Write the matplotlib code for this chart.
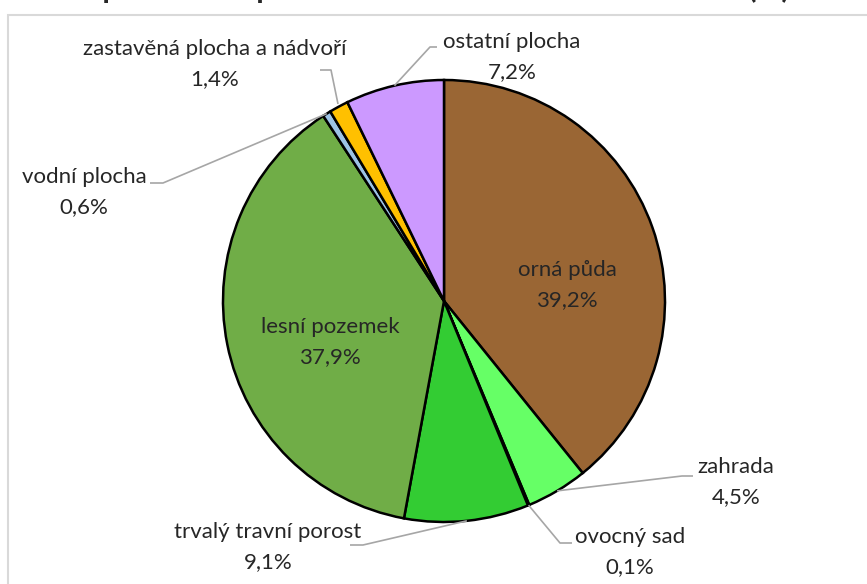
import matplotlib.pyplot as plt
from matplotlib.patches import Rectangle
import numpy as np

plt.rcParams["font.family"] = ["Lato", "DejaVu Sans"]

categories = ["orná půda", "zahrada", "ovocný sad", "trvalý travní porost",
              "lesní pozemek", "vodní plocha", "zastavěná plocha a nádvoří",
              "ostatní plocha"]
values = [39.2, 4.5, 0.1, 9.1, 37.9, 0.6, 1.4, 7.2]
colors = ["#9A6634", "#66FF66", "#2E8B2E", "#33CC33", "#70AD47", "#9DC3E6",
          "#FFC000", "#CC99FF"]

W, H = 867, 584
CX, CY, R = 444, 301, 221

fig = plt.figure(figsize=(W / 100, H / 100), dpi=100)
ax = fig.add_axes([0, 0, 1, 1])

wedges, _ = ax.pie(values, colors=colors, startangle=90, counterclock=False,
                   radius=1, center=(0, 0),
                   wedgeprops=dict(edgecolor="black", linewidth=1.8))

ax.set_aspect("auto")
ax.set_xlim(-CX / R, (W - CX) / R)
ax.set_ylim((CY - H) / R, CY / R)
ax.axis("off")

# frame of the chart area (cut off at right/bottom)
fig.patches.append(Rectangle((8 / W, -0.1), 1.2, 1 - 15 / H + 0.1,
                             transform=fig.transFigure, fill=False,
                             edgecolor="#D9D9D9", lw=1.5))

# title, mostly cut off above the image
fig.text(790 / W, 1 + 2 / H,
         "Zastoupení druhů pozemků v katastrálním území obce (%)",
         ha="right", va="baseline", fontsize=22, fontweight="bold",
         color="#262626")


def px(x, y):
    return ((x - CX) / R, (CY - y) / R)


def fmt(v):
    return f"{v:.1f}".replace(".", ",") + "%"


txt = dict(ha="center", va="center", fontsize=16, color="#262626")

# inside labels
inside = {0: (567, 270), 4: (330, 327)}
for i, (x, y) in inside.items():
    ax.text(*px(x, y), categories[i], **txt)
    ax.text(*px(x, y + 30), fmt(values[i]), **txt)

# outside labels: text center, leader elbow points (pixels)
outside = {
    1: ((736, 467), [(682, 476), (693, 476)]),
    2: ((630, 537), [(560, 543), (572, 543)]),
    3: ((268, 532), [(363, 545), (350, 545)]),
    5: ((84, 177), [(163, 183), (150, 183)]),
    6: ((215, 49), [(338, 104), (331, 70), (320, 70)]),
    7: ((512, 42), [(430, 47), (437, 47)]),
}
for i, ((x, y), elbow) in outside.items():
    w = wedges[i]
    ang = np.deg2rad((w.theta1 + w.theta2) / 2)
    start = (np.cos(ang), np.sin(ang))
    pts = [start] + [px(a, b) for a, b in elbow]
    if i == 6:
        pts = [px(a, b) for a, b in elbow]
    xs, ys = zip(*pts)
    ax.plot(xs, ys, color="#A6A6A6", lw=1.2, solid_capstyle="butt")
    ax.text(*px(x, y), categories[i], **txt)
    ax.text(*px(x, y + 30), fmt(values[i]), **txt)

fig.savefig("out.png", dpi=100)
